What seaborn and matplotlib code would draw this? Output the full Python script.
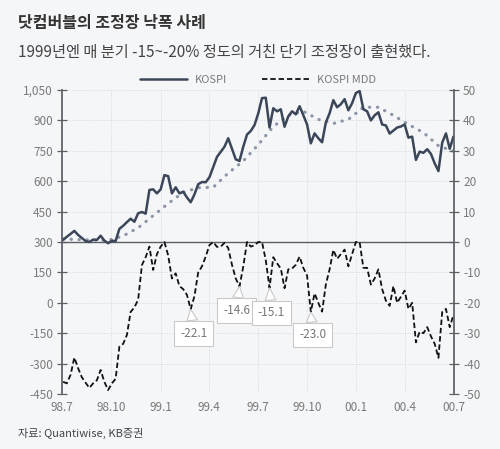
import pandas as pd
import matplotlib
matplotlib.use('Agg')
import matplotlib.pyplot as plt
from matplotlib.ticker import FuncFormatter
import seaborn as sns

# KOSPI weekly close (left axis)
kospi = [310, 326, 340, 355, 335, 320, 305, 300, 312, 310,
         331, 307, 294, 306, 305, 365, 380, 398, 415, 400,
         442, 448, 440, 557, 560, 540, 560, 630, 625, 540,
         570, 540, 548, 520, 496, 535, 585, 596, 595, 620,
         670, 720, 745, 770, 812, 760, 708, 700, 770, 830,
         848, 877, 935, 1010, 1012, 865, 960, 945, 955, 869,
         920, 945, 930, 970, 926, 880, 787, 836, 812, 792,
         890, 935, 1000, 965, 980, 1005, 950, 985, 1035, 1045,
         955, 945, 900, 925, 940, 880, 875, 835, 850, 865,
         870, 880, 815, 820, 705, 746, 740, 758, 735, 688,
         650, 790, 836, 760, 820]

# KOSPI MDD, % (right axis)
mdd = [-46, -46.5, -43.7, -38, -41.5, -44.5, -46.3, -48, -46.5, -45.5,
       -42.1, -46, -48.7, -46.5, -45, -34.4, -33.5, -30.6, -23, -21.5,
       -19, -7.6, -5, -1.5, -9.2, -4, -1.5, 0, -4.4, -12,
       -10.3, -14.5, -15.5, -17.4, -22.1, -17.8, -10, -8, -4.8, -1,
       0, -1.6, -1.5, -0.3, -2, -7.5, -12, -14.6, -8.1, 0,
       -1.5, -1.1, 0, 0, -6, -15.1, -5, -7, -8.7, -15.2,
       -9, -8.7, -7.5, -4.8, -8.5, -11, -23.0, -16.9, -20, -22.9,
       -14, -9, -2.6, -5.5, -4, -2.5, -8, -4, 0, 0,
       -8.5, -8.5, -14, -12, -9, -15.5, -19.3, -21, -14.5, -20,
       -18, -16, -22, -20, -33, -29.5, -30, -28, -31, -33.5,
       -38.1, -23, -22, -28, -24]

# moving average of KOSPI, every 4 weeks (left axis)
kospi_ma = [315, 312, 310, 308, 330, 370, 430, 490, 545, 568,
            570, 640, 700, 780, 870, 925, 945, 905, 885, 905,
            965, 965, 925, 880, 840, 775, 748]

x_ticks = ['1998-07-01', '1998-10-01', '1999-01-01', '1999-04-01', '1999-07-01',
           '1999-10-01', '2000-01-01', '2000-04-01', '2000-07-01']
x_labels = ['98.7', '98.10', '99.1', '99.4', '99.7', '99.10', '00.1', '00.4', '00.7']

callout_weeks = [34, 47, 55, 66]
callout_labels = ['-22.1', '-14.6', '-15.1', '-23.0']
callout_offsets = [(3, -24), (-3, -24), (2, -25), (2, -23)]

dates = pd.date_range('1998-07-03', periods=len(kospi), freq='W-FRI')
ma_dates = dates[::4]

bg = '#f5f6f8'
sns.set_theme(style='white')
plt.rcParams['font.family'] = ['Noto Sans CJK KR', 'DejaVu Sans']
plt.rcParams['axes.unicode_minus'] = False

fig = plt.figure(figsize=(5, 4.49), dpi=100, facecolor=bg)
ax = fig.add_axes([0.124, 0.1225, 0.784, 0.677], facecolor=bg)
ax2 = ax.twinx()

sns.lineplot(x=ma_dates, y=kospi_ma, ax=ax, color='#8b96a6', lw=2.3,
             linestyle=(0, (0.1, 2.4)), dash_capstyle='round')
sns.lineplot(x=dates, y=kospi, ax=ax, color='#3c4659', lw=1.8, label='KOSPI',
             legend=False)
sns.lineplot(x=dates, y=mdd, ax=ax2, color='#111111', lw=1.3,
             linestyle=(0, (3, 1.6)), label='KOSPI MDD', legend=False)

ax.set_ylim(-450, 1050)
ax.set_yticks(range(-450, 1051, 150))
ax.yaxis.set_major_formatter(FuncFormatter(lambda v, p: f'{v:,.0f}'))
ax2.set_ylim(-50, 50)
ax2.set_yticks(range(-50, 51, 10))

ax.set_xlim(pd.Timestamp('1998-07-01'), pd.Timestamp('2000-07-01'))
ax.set_xticks(pd.to_datetime(x_ticks))
ax.set_xticklabels(x_labels)
ax.set_xlabel('')
ax.set_ylabel('')
ax2.set_ylabel('')

grid_kw = dict(color='#d5d9df', lw=0.7, linestyle=(0, (1, 1.5)))
ax.grid(True, axis='both', **grid_kw)
ax.axhline(300, color='#5a5f66', lw=1.0, zorder=1)

for a in (ax, ax2):
    for s in ('top', 'bottom'):
        a.spines[s].set_visible(False)
ax.spines['left'].set_color('#5a5f66')
ax.spines['right'].set_visible(False)
ax2.spines['left'].set_visible(False)
ax2.spines['right'].set_color('#5a5f66')

ax.tick_params(axis='y', direction='inout', length=7, width=0.9, color='#5a5f66',
               labelsize=8.5, labelcolor='#7a7a7a', pad=3, left=True)
ax2.tick_params(axis='y', direction='inout', length=7, width=0.9, color='#5a5f66',
                labelsize=8.5, labelcolor='#7a7a7a', pad=3, right=True)
ax.tick_params(axis='x', length=0, labelsize=8.5, labelcolor='#7a7a7a', pad=5)

for wk, lab, off in zip(callout_weeks, callout_labels, callout_offsets):
    ax2.annotate(lab, xy=(dates[wk], mdd[wk]), xytext=off, textcoords='offset pixels',
                 ha='center', va='center', fontsize=8.5, color='#777777', zorder=10,
                 bbox=dict(boxstyle='square,pad=0.5', fc='white', ec='#c9c9c9', lw=0.8),
                 arrowprops=dict(arrowstyle='wedge,tail_width=0.9,shrink_factor=0.5',
                                 fc='white', ec='#c9c9c9', lw=0.8,
                                 shrinkA=0, shrinkB=0))

h1, l1 = ax.get_legend_handles_labels()
h2, l2 = ax2.get_legend_handles_labels()
fig.legend(h1 + h2, l1 + l2, loc='center', bbox_to_anchor=(0.516, 0.822), ncol=2,
           frameon=False, fontsize=8, labelcolor='#7a7a7a', handlelength=4.2,
           handletextpad=0.7, columnspacing=3.2)

fig.text(0.036, 1 - 23 / 449, '닷컴버블의 조정장 낙폭 사례', fontsize=11.5, weight='bold',
         color='#333333', va='center')
fig.text(0.036, 1 - 53 / 449, '1999년엔 매 분기 -15~-20% 정도의 거친 단기 조정장이 출현했다.',
         fontsize=11, color='#444444', va='center')
fig.text(0.036, 1 - 433 / 449, '자료: Quantiwise, KB증권', fontsize=8, color='#444444',
         va='center')

fig.savefig('out.png', dpi=100, facecolor=bg)
